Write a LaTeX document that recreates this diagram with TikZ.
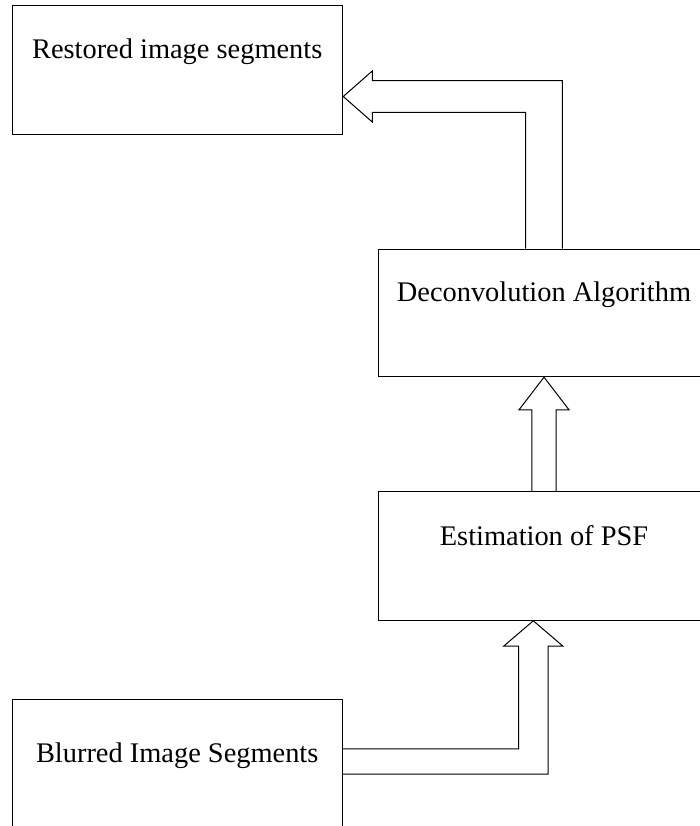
\documentclass[tikz,border=0pt]{standalone}
\usepackage{fontspec}
\setmainfont{Liberation Serif}
\usetikzlibrary{calc}
\begin{document}
\begin{tikzpicture}[x=1pt,y=-1pt,line width=1pt,
  box/.style={draw, inner sep=0pt, minimum width=330.3pt, anchor=base,
    font=\fontsize{28.4}{34}\selectfont},
  blockarrow/.style={draw, line join=miter}]
\clip (0,0) rectangle (700,826);
\node[box, text height=52.6pt, text depth=76.4pt] (restored) at (177.2,58.3) {Restored image segments};
\node[box, text height=52.7pt, text depth=75pt] (deconv) at (544,301.7) {Deconvolution Algorithm};
\node[box, text height=53.3pt, text depth=75.3pt] (est) at (544,545) {Estimation of PSF};
\node[box, text height=63.7pt, text depth=70pt] (blurred) at (177.2,762.7) {Blurred Image Segments};
% Deconvolution -> Restored
\coordinate (t1) at ($(restored.south east)+(0.4,-38.7)$);
\coordinate (a1L) at ($(deconv.north)+(-18.3,0)$);
\coordinate (a1R) at ($(deconv.north)+(18.3,0)$);
\coordinate (h1lo) at ($(t1)+(29,15.8)$);
\coordinate (h1hi) at ($(t1)+(29,-15.8)$);
\draw[blockarrow] (a1L) -- (a1L |- h1lo) -- (h1lo) -- ($(t1)+(29,25.5)$) -- (t1)
  -- ($(t1)+(29,-25.5)$) -- (h1hi) -- (h1hi -| a1R) -- (a1R);
% Estimation -> Deconvolution
\draw[blockarrow] ($(est.north)+(-12.2,0)$) -- ($(deconv.south)+(-12.2,32.6)$) -- ($(deconv.south)+(-25,32.6)$)
  -- (deconv.south) -- ($(deconv.south)+(25,32.6)$) -- ($(deconv.south)+(12.2,32.6)$) -- ($(est.north)+(12.2,0)$);
% Blurred -> Estimation
\coordinate (t3) at ($(est.south)+(-10.7,0)$);
\coordinate (s3hi) at ($(blurred.north east)+(0,50.3)$);
\coordinate (s3lo) at ($(blurred.north east)+(0,75.7)$);
\coordinate (v3L) at ($(t3)+(-14.8,25.4)$);
\coordinate (v3R) at ($(t3)+(14.8,25.4)$);
\draw[blockarrow] (s3hi) -- (s3hi -| v3L) -- (v3L) -- ($(t3)+(-29.7,25.4)$) -- (t3)
  -- ($(t3)+(29.7,25.4)$) -- (v3R) -- (v3R |- s3lo) -- (s3lo);
\end{tikzpicture}
\end{document}
